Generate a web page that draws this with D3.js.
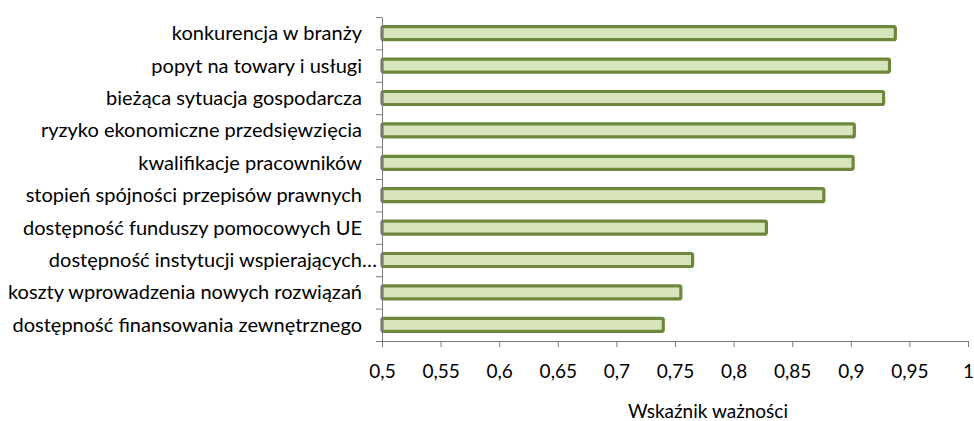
<!DOCTYPE html>
<html>
<head>
<meta charset="utf-8">
<script src="https://d3js.org/d3.v7.min.js"></script>
<style>
  body { margin: 0; background: #fff; }
  .axis text { font-family: Lato, "Open Sans", sans-serif; fill: #000; }
  .axis path, .axis line { stroke: #7a7a7a; }
</style>
</head>
<body>
<div id="chart"></div>
<script>
const categories = [
    "konkurencja w branży",
    "popyt na towary i usługi",
    "bieżąca sytuacja gospodarcza",
    "ryzyko ekonomiczne przedsięwzięcia",
    "kwalifikacje pracowników",
    "stopień spójności przepisów prawnych",
    "dostępność funduszy pomocowych UE",
    "dostępność instytucji wspierających…",
    "koszty wprowadzenia nowych rozwiązań",
    "dostępność finansowania zewnętrznego"
];
const values = [0.938, 0.933, 0.928, 0.903, 0.902, 0.877, 0.828, 0.765, 0.755, 0.740];
const xTicks = [0.5, 0.55, 0.6, 0.65, 0.7, 0.75, 0.8, 0.85, 0.9, 0.95, 1];
const xTitle = "Wskaźnik ważności";

const margin = {top: 17, right: 6, bottom: 80, left: 382},
    width = 974 - margin.left - margin.right,
    height = 421 - margin.top - margin.bottom;

const svg = d3.select("#chart").append("svg")
    .attr("width", 974)
    .attr("height", 421)
    .append("g")
    .attr("transform", "translate(" + margin.left + "," + margin.top + ")");

const x = d3.scaleLinear().domain([0.5, 1]).range([0, width]);
const y = d3.scaleBand().domain(categories).range([0, height]).paddingInner(0.6).paddingOuter(0.3);
const yEdges = d3.scaleLinear().domain([0, categories.length]).range([0, height]);

// bars
svg.selectAll(".bar")
    .data(categories)
    .enter()
    .append("rect")
    .attr("class", "bar")
    .attr("x", x(0.5))
    .attr("y", function(d) { return y(d); })
    .attr("width", function(d, i) { return x(values[i]) - x(0.5); })
    .attr("height", y.bandwidth())
    .attr("rx", 1.5)
    .style("fill", "#d8e4bc")
    .style("stroke", "#6e883b")
    .style("stroke-width", 3.2);

// x axis
const xAxis = svg.append("g")
    .attr("class", "x axis")
    .attr("transform", "translate(0," + height + ")")
    .call(d3.axisBottom(x).tickValues(xTicks).tickSize(6).tickSizeOuter(0)
        .tickFormat(function(d) { return String(d).replace(".", ","); }));
xAxis.selectAll("text").style("font-size", "19px").attr("dy", "1.45em");

// y axis: ticks sit between categories
const yAxis = svg.append("g")
    .attr("class", "y axis")
    .call(d3.axisLeft(yEdges).tickValues(d3.range(categories.length + 1)).tickSize(6).tickSizeOuter(0).tickFormat(""));

svg.append("g")
    .attr("class", "axis")
    .selectAll(".cat")
    .data(categories)
    .enter()
    .append("text")
    .attr("class", "cat")
    .attr("x", function(d) { return d.endsWith("…") ? -5 : -20; })
    .attr("y", function(d) { return y(d) + y.bandwidth() / 2; })
    .attr("dy", "0.35em")
    .style("text-anchor", "end")
    .style("font-size", "20px")
    .text(function(d) { return d; });

svg.append("text")
    .attr("class", "axis")
    .attr("x", width / 2 + 33)
    .attr("y", height + 77)
    .style("text-anchor", "middle")
    .style("font-family", "Lato, 'Open Sans', sans-serif")
    .style("font-size", "19px")
    .text(xTitle);
</script>
</body>
</html>
